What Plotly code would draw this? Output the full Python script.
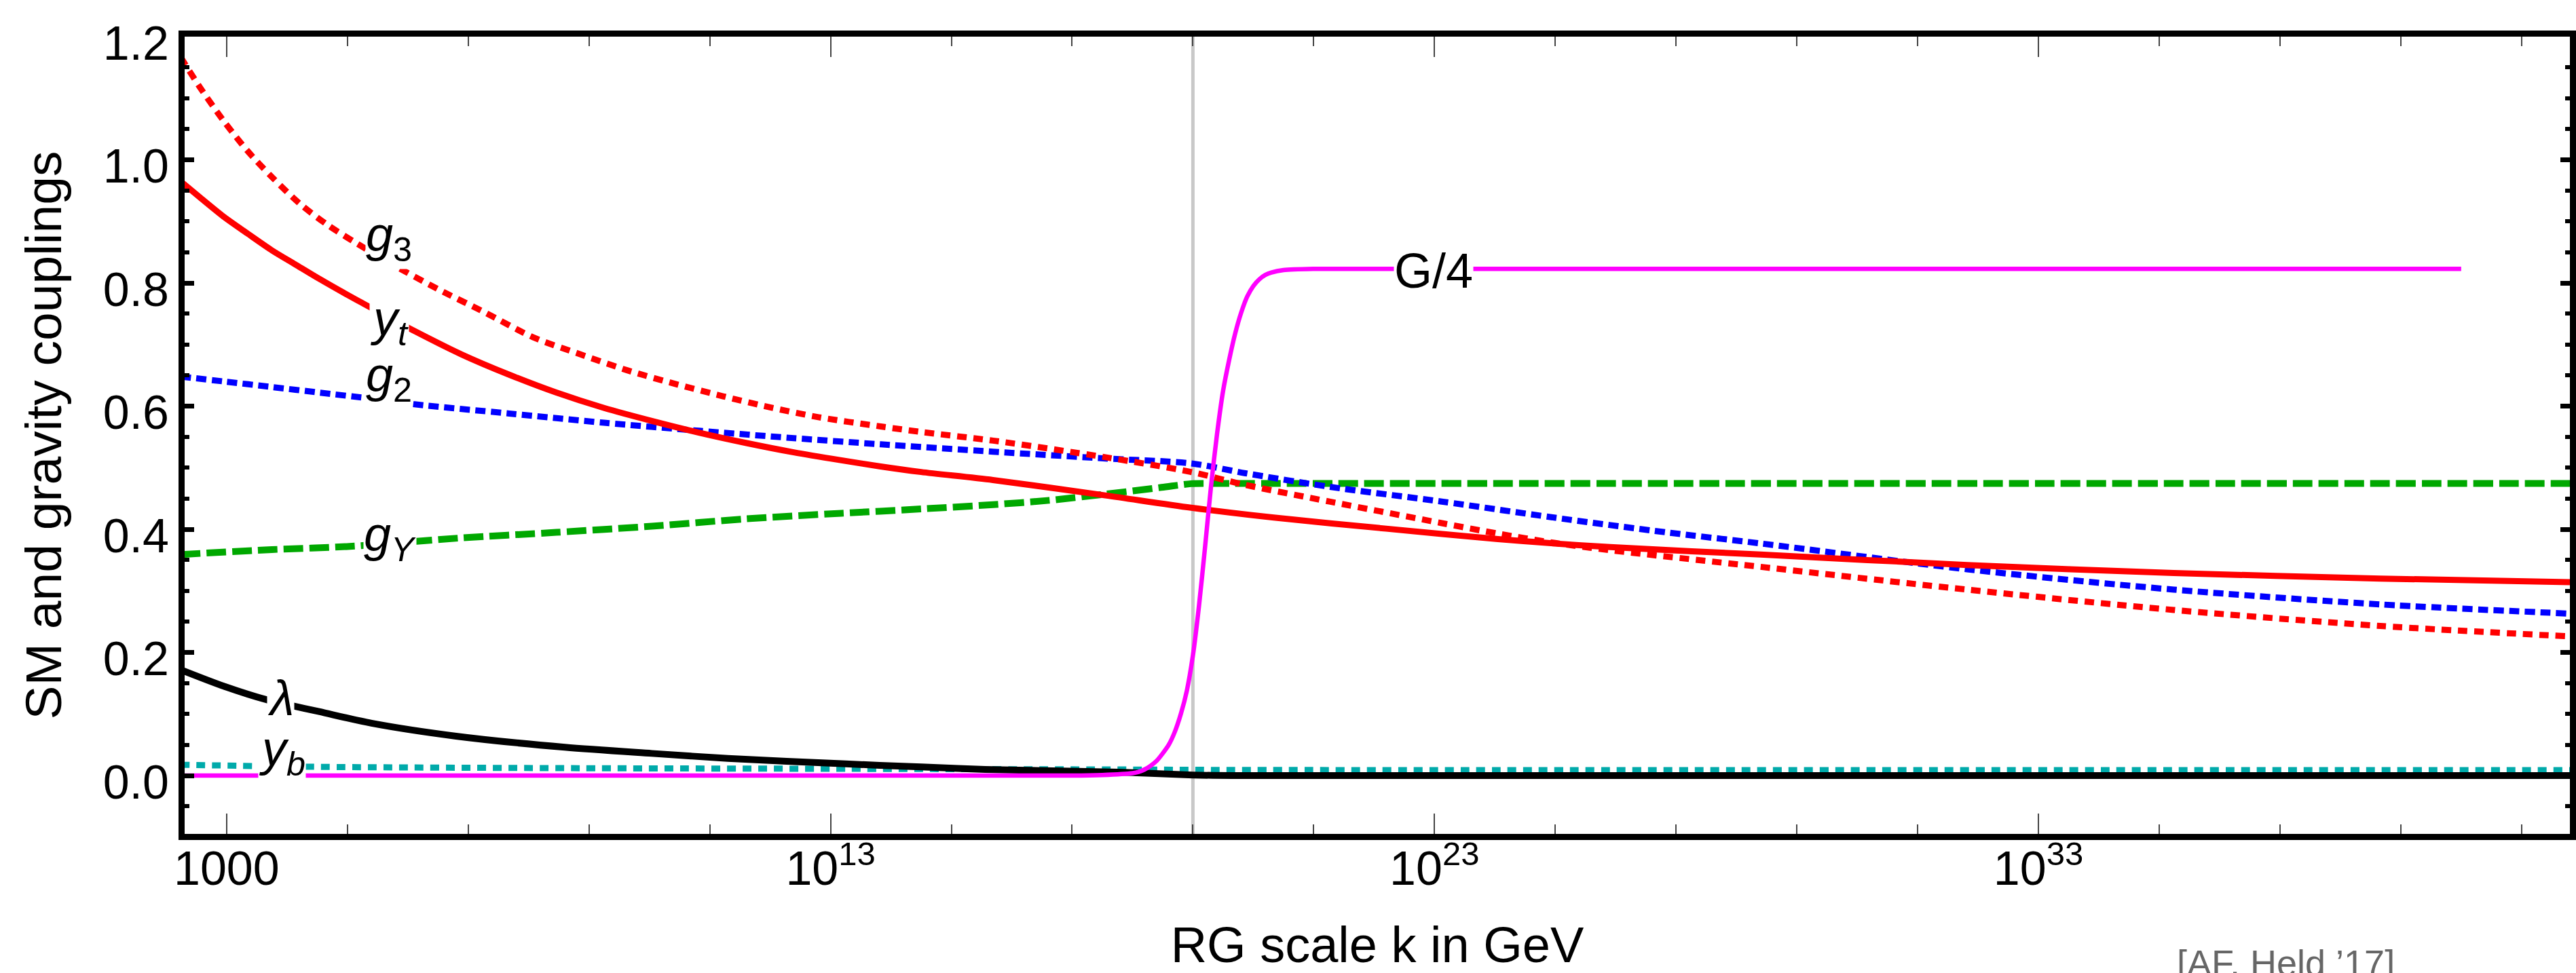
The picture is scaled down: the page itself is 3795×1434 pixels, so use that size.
import numpy as np
import plotly.graph_objects as go

# ---- data: RG trajectories, log10(k / GeV) and coupling values ----
LOGK_G3 = [2.238, 2.57, 2.96, 3.35, 3.75, 4.22, 4.69, 5.16, 5.71, 6.50, 7.28, 8.07, 8.86,
           9.64, 10.43, 11.22, 12.0, 12.8, 13.83, 14.5, 15.69, 17.55, 18.97, 19.87, 21.26,
           23.12, 24.05, 24.98, 25.91, 28.4, 31.82, 35.24, 38.66, 41.8]
G3 = [1.167, 1.116, 1.062, 1.014, 0.972, 0.928, 0.893, 0.864, 0.832, 0.790, 0.752, 0.712, 0.684,
      0.658, 0.636, 0.616, 0.598, 0.582, 0.567, 0.558, 0.544, 0.517, 0.493, 0.472, 0.445,
      0.410, 0.393, 0.378, 0.366, 0.339, 0.302, 0.269, 0.243, 0.226]

LOGK_YT = [2.238, 2.57, 2.96, 3.35, 3.75, 4.14, 4.53, 5.16, 5.69, 6.11, 6.89, 7.68, 8.46, 9.25,
           10.04, 10.82, 11.61, 12.39, 13.18, 13.83, 14.5, 15.69, 17.55, 18.97, 20.34, 22.2,
           24.05, 25.91, 28.4, 31.82, 35.24, 38.66, 41.8]
YT = [0.965, 0.938, 0.907, 0.880, 0.853, 0.830, 0.807, 0.772, 0.744, 0.722, 0.684, 0.651, 0.622,
      0.597, 0.576, 0.557, 0.540, 0.525, 0.512, 0.502, 0.493, 0.480, 0.455, 0.435, 0.419, 0.401,
      0.384, 0.371, 0.359, 0.342, 0.329, 0.320, 0.314]

LOGK_G2 = [2.238, 2.96, 3.75, 4.53, 5.32, 6.11, 7.68, 9.25, 10.82, 12.39, 13.83, 15.69, 17.55,
           18.97, 19.87, 21.26, 23.12, 24.98, 26.84, 28.4, 31.82, 35.24, 38.66, 41.8]
G2 = [0.648, 0.640, 0.631, 0.622, 0.613, 0.603, 0.588, 0.573, 0.560, 0.548, 0.538, 0.526, 0.515,
      0.507, 0.491, 0.469, 0.445, 0.419, 0.395, 0.377, 0.335, 0.302, 0.278, 0.263]

LOGK_GY = [2.238, 3.75, 5.0, 6.89, 8.46, 10.04, 11.61, 13.18, 14.5, 15.69, 16.62, 17.55, 18.48,
           18.97, 19.3, 20.0, 41.8]
GY = [0.359, 0.367, 0.372, 0.386, 0.395, 0.405, 0.417, 0.426, 0.433, 0.440, 0.447, 0.457, 0.468,
      0.474, 0.4745, 0.4745, 0.4745]

LOGK_LAM = [2.238, 2.96, 3.67, 4.53, 5.4, 6.8, 8.6, 10.04, 11.3, 13.25, 14.5, 15.56, 17.79,
            19.0, 19.66, 41.8]
LAM = [0.172, 0.145, 0.123, 0.104, 0.085, 0.064, 0.046, 0.036, 0.028, 0.019, 0.014, 0.010, 0.0055,
       0.001, 0.0, 0.0]

LOGK_YB = [2.238, 4.4, 8.86, 13.3, 17.8, 19.6, 41.8]
YB = [0.0176, 0.0143, 0.012, 0.011, 0.0099, 0.0092, 0.0088]

LOGK_G4 = [2.238, 17.0, 17.5, 18.0, 18.1, 18.2, 18.3, 18.4, 18.5, 18.6, 18.7, 18.8, 18.9,
           19.0, 19.1, 19.2, 19.3, 19.4, 19.5, 19.6, 19.7, 19.8, 19.9, 20.0, 20.1, 20.2,
           20.3, 20.5, 21.0, 40.0]
G4 = [0.0, 0.0, 0.001, 0.004, 0.006, 0.010, 0.016, 0.024, 0.036, 0.050, 0.071, 0.100, 0.138,
      0.195, 0.275, 0.370, 0.470, 0.555, 0.625, 0.675, 0.718, 0.752, 0.778, 0.795, 0.806, 0.813,
      0.817, 0.821, 0.823, 0.823]

PLANCK_K = 1e19

X_TICK_VALS = [1e3, 1e13, 1e23, 1e33]
X_TICK_TEXT = ["1000", "10<sup>13</sup>", "10<sup>23</sup>", "10<sup>33</sup>"]
X_MINOR_EXP = [5, 7, 9, 11, 15, 17, 19, 21, 25, 27, 29, 31, 35, 37, 39, 41]
Y_TICK_VALS = [0.0, 0.2, 0.4, 0.6, 0.8, 1.0, 1.2]
Y_TICK_TEXT = ["0.0", "0.2", "0.4", "0.6", "0.8", "1.0", "1.2"]
Y_MINOR_VALS = [-0.05, 0.05, 0.1, 0.15, 0.25, 0.3, 0.35, 0.45, 0.5, 0.55, 0.65, 0.7, 0.75,
                0.85, 0.9, 0.95, 1.05, 1.1, 1.15]

# curve labels: (text, log10 k, coupling)
LABELS = [
    ("<i>g</i><sub>3</sub>", 5.69, 0.873),
    ("<i>y</i><sub><i>t</i></sub>", 5.69, 0.737),
    ("<i>g</i><sub>2</sub>", 5.69, 0.645),
    ("<i>g</i><sub><i>Y</i></sub>", 5.71, 0.386),
    ("<i>λ</i>", 3.90, 0.1262),
    ("<i>y</i><sub><i>b</i></sub>", 3.92, 0.038),
    ("G/4", 22.98, 0.820),
]

X_RANGE_LOG = [2.305, 41.80]
Y_RANGE = [-0.0947, 1.2]

FONT = "Liberation Sans, Arial, Helvetica, sans-serif"


def k(exps):
    return 10.0 ** np.asarray(exps, dtype=float)


fig = go.Figure()

# Planck scale marker
fig.add_trace(go.Scatter(x=[PLANCK_K, PLANCK_K], y=Y_RANGE, mode="lines",
                         line=dict(color="#c8c8c8", width=5), hoverinfo="skip"))

series = [
    (LOGK_GY, GY, dict(color="#00a800", width=10, dash="29px,9px")),
    (LOGK_G2, G2, dict(color="#0000ff", width=9, dash="15px,8px")),
    (LOGK_G3, G3, dict(color="#ff0000", width=9, dash="14px,10px")),
    (LOGK_YT, YT, dict(color="#ff0000", width=9)),
    (LOGK_YB, YB, dict(color="#00aaaa", width=9, dash="13px,10px")),
    (LOGK_LAM, LAM, dict(color="#000000", width=10)),
    (LOGK_G4, G4, dict(color="#ff00ff", width=6.5)),
]
for lx, vals, line in series:
    fig.add_trace(go.Scatter(x=k(lx), y=vals, mode="lines",
                             line=dict(shape="spline", smoothing=0.8, **line),
                             hoverinfo="skip"))

annotations = []
for text, lx, yv in LABELS:
    annotations.append(dict(x=lx, y=yv, xref="x", yref="y", text=text, showarrow=False,
                            xanchor="center", yanchor="middle", bgcolor="white", borderpad=0,
                            font=dict(family=FONT, size=72, color="black")))
annotations.append(dict(x=0.8808, y=-0.1616, xref="paper", yref="paper",
                        text="[AF, Held ’17]", showarrow=False,
                        xanchor="center", yanchor="middle",
                        font=dict(family=FONT, size=54, color="#666666")))

fig.update_layout(
    width=3795, height=1434,
    margin=dict(l=272, r=0, t=54, b=204, pad=0),
    paper_bgcolor="white", plot_bgcolor="white",
    showlegend=False,
    font=dict(family=FONT, color="black"),
    annotations=annotations,
    xaxis=dict(
        type="log", range=X_RANGE_LOG,
        showline=True, linewidth=9, linecolor="black", mirror="allticks",
        ticks="inside", ticklen=30, tickwidth=2, tickcolor="#444444",
        tickmode="array", tickvals=X_TICK_VALS, ticktext=X_TICK_TEXT,
        tickfont=dict(family=FONT, size=70, color="black"),
        ticklabelstandoff=-18,
        minor=dict(tickmode="array", tickvals=list(k(X_MINOR_EXP)), ticks="inside",
                   ticklen=14, tickwidth=2, tickcolor="#444444", showgrid=False),
        showgrid=False, zeroline=False,
        title=dict(text="RG scale k in GeV", font=dict(family=FONT, size=74, color="black"),
                   standoff=63),
    ),
    yaxis=dict(
        range=Y_RANGE,
        showline=True, linewidth=9, linecolor="black", mirror="allticks",
        ticks="inside", ticklen=14, tickwidth=7, tickcolor="black",
        tickmode="array", tickvals=Y_TICK_VALS, ticktext=Y_TICK_TEXT,
        tickfont=dict(family=FONT, size=70, color="black"),
        ticklabelshift=9,
        minor=dict(tickmode="array", tickvals=Y_MINOR_VALS, ticks="inside",
                   ticklen=7, tickwidth=6, tickcolor="black", showgrid=False),
        showgrid=False, zeroline=False,
        title=dict(text="SM and gravity couplings",
                   font=dict(family=FONT, size=75, color="black"), standoff=40),
    ),
)

fig.write_html("out.html")
